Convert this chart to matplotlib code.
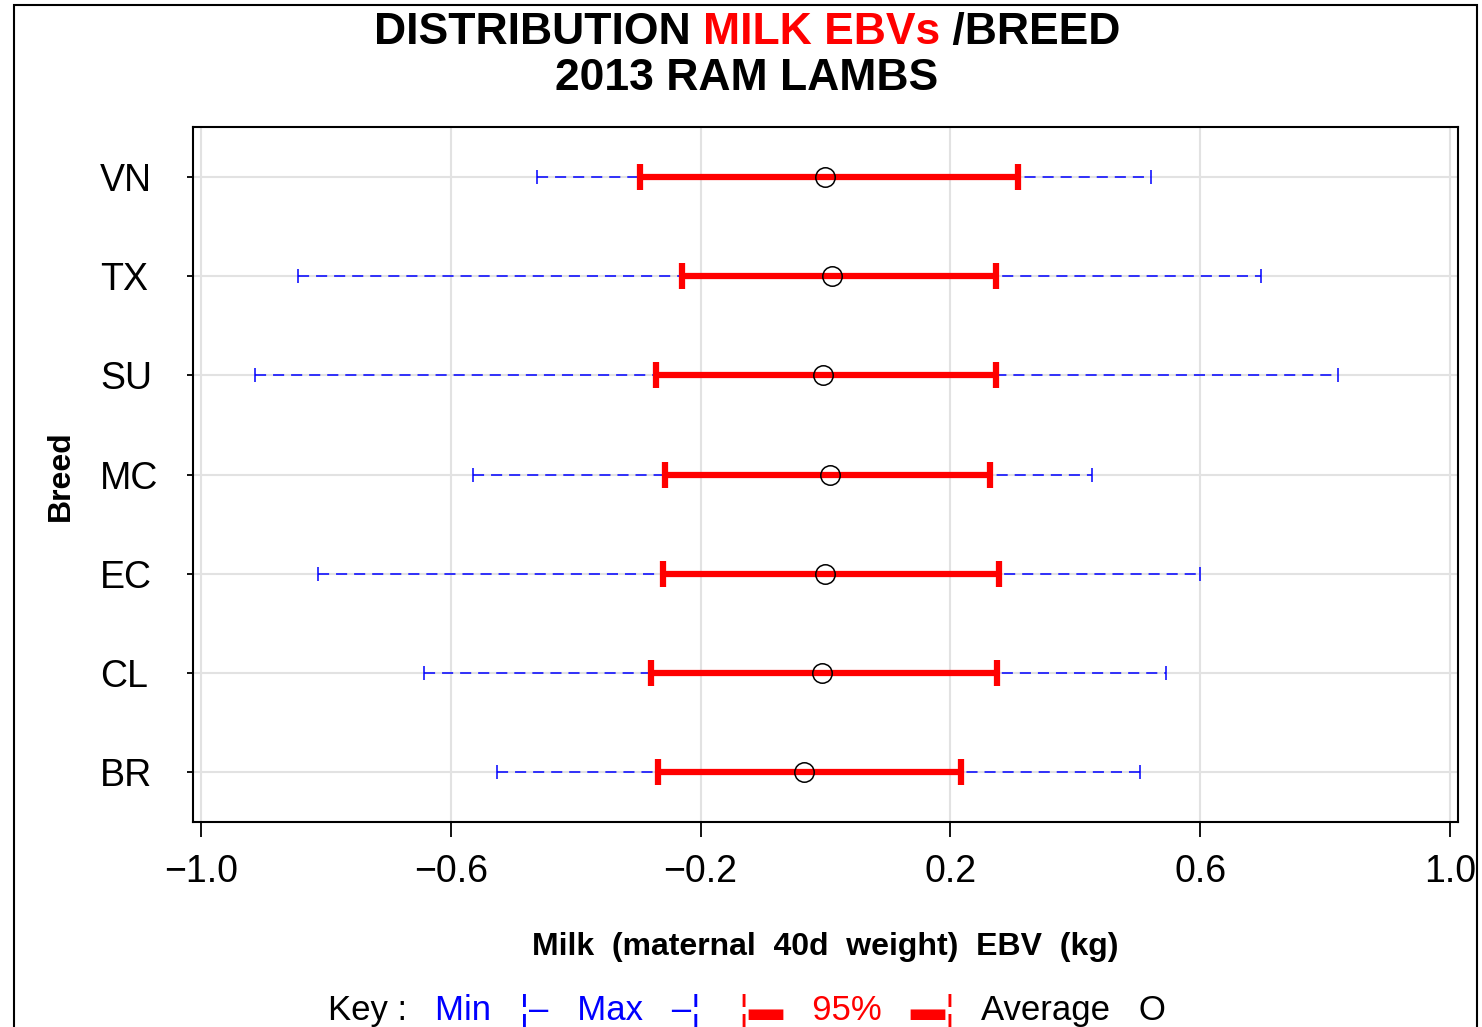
import matplotlib
matplotlib.use("Agg")
import matplotlib.pyplot as plt
from matplotlib.patches import Rectangle

plt.rcParams['font.family'] = ['Liberation Sans', 'DejaVu Sans']
plt.rcParams['lines.scale_dashes'] = False

# breeds listed top to bottom
breeds = ["VN", "TX", "SU", "MC", "EC", "CL", "BR"]
ebv_min = [-0.462, -0.845, -0.914, -0.564, -0.813, -0.643, -0.526]
ci_low = [-0.297, -0.230, -0.271, -0.257, -0.260, -0.279, -0.268]
ebv_mean = [-0.001, 0.010, -0.004, 0.007, -0.001, -0.006, -0.034]
ci_high = [0.308, 0.273, 0.273, 0.263, 0.278, 0.275, 0.217]
ebv_max = [0.521, 0.697, 0.821, 0.427, 0.600, 0.545, 0.504]
xticks = [-1.0, -0.6, -0.2, 0.2, 0.6, 1.0]

fig = plt.figure(figsize=(14.82, 10.27), dpi=100)
ax = fig.add_axes([0.1302, 0.1996, 0.8536, 0.6767])

ypos = list(range(len(breeds)))

# grid
for xt in xticks:
    ax.axvline(xt, color="#e2e2e2", lw=1.5, zorder=0)
for y in ypos:
    ax.axhline(y, color="#e2e2e2", lw=1.5, zorder=0)

# min-max range (blue dashed)
ax.hlines(ypos, ebv_min, ebv_max, colors="blue", lw=1.1, linestyles=(0, (8, 5)), zorder=2)
ax.plot(ebv_min, ypos, ls="none", marker="|", ms=10, mew=1.1, color="blue", zorder=2)
ax.plot(ebv_max, ypos, ls="none", marker="|", ms=10, mew=1.1, color="blue", zorder=2)

# 95% range (red thick)
ax.hlines(ypos, ci_low, ci_high, colors="red", lw=4.5, zorder=3)
ax.plot(ci_low, ypos, ls="none", marker="|", ms=19, mew=4.5, color="red", zorder=3)
ax.plot(ci_high, ypos, ls="none", marker="|", ms=19, mew=4.5, color="red", zorder=3)

# average
ax.plot(ebv_mean, ypos, ls="none", marker="o", ms=14, mfc="none", mec="black", mew=1.1, zorder=4)

ax.set_xlim(-1.013, 1.013)
ax.set_ylim(len(breeds) - 0.5, -0.5)
ax.set_xticks(xticks)
ax.set_xticklabels([("\u2212" if v < 0 else "") + f"{abs(v):.1f}" for v in xticks], fontsize=27)
ax.set_yticks(ypos)
ax.set_yticklabels(breeds, fontsize=27, ha="left")
ax.tick_params(axis="x", length=11, width=1.3, pad=12)
ax.tick_params(axis="y", length=4, width=1.3, pad=63)
for sp in ax.spines.values():
    sp.set_linewidth(1.5)

ax.set_xlabel("Milk  (maternal  40d  weight)  EBV  (kg)", fontsize=23, fontweight="bold", labelpad=30)
fig.text(0.041, 0.537, "Breed", rotation=90, fontsize=23, fontweight="bold", ha="center", va="center")

# outer frame
fig.add_artist(Rectangle((14 / 1482, -0.01), 1463 / 1482, 1.0 - 5 / 1027 + 0.01,
                         transform=fig.transFigure, fill=False, lw=1.5, ec="black"))


def colored_line(parts, x, y, size, weight):
    # place coloured pieces one after another, centred as a whole
    renderer = fig.canvas.get_renderer()
    texts = [fig.text(0, 0, s, color=c, fontsize=size, fontweight=weight, ha="left", va="baseline")
             for s, c in parts]
    widths = [t.get_window_extent(renderer).width for t in texts]
    x0 = x * fig.bbox.width - sum(widths) / 2
    for t, w in zip(texts, widths):
        t.set_transform(matplotlib.transforms.IdentityTransform())
        t.set_position((x0, y * fig.bbox.height))
        x0 += w


colored_line([("DISTRIBUTION ", "black"), ("MILK EBVs", "red"), (" /BREED", "black")],
             0.504, 1 - 44 / 1027, 32, "bold")
colored_line([("2013 RAM LAMBS", "black")], 0.504, 1 - 90 / 1027, 32, "bold")
colored_line([("Key :   ", "black"), ("Min   \u00a6\u2013   Max   \u2013\u00a6", "blue"),
              ("    \u00a6\u25ac   95%   \u25ac\u00a6", "red"), ("   Average   O", "black")],
             0.504, 1 - 1020 / 1027, 25, "normal")

fig.savefig("out.png", dpi=100)
